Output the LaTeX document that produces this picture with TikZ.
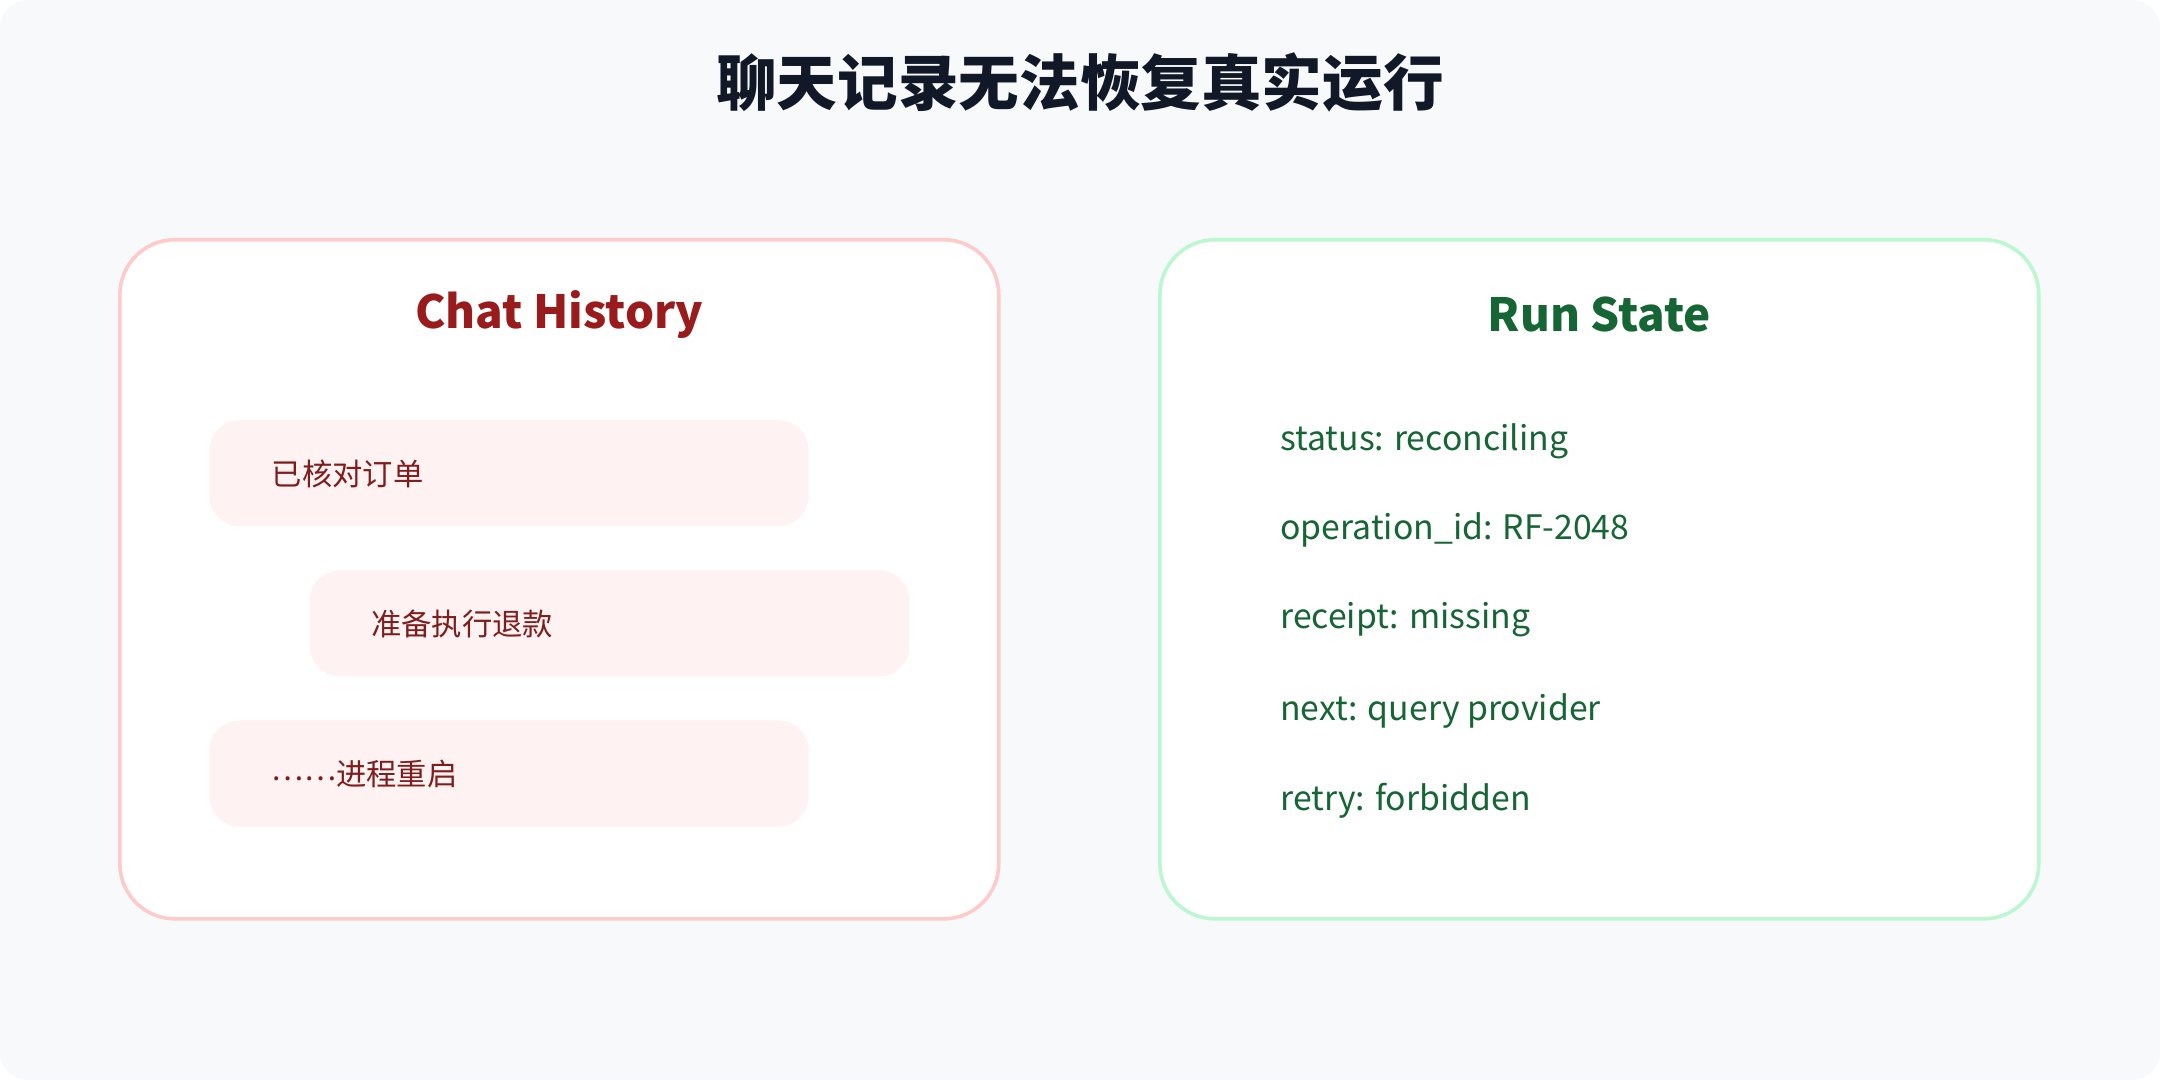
\documentclass[tikz,border=0pt]{standalone}
\usepackage{fontspec}
\setmainfont{Noto Sans CJK SC}
\definecolor{bg}{HTML}{F8F9FB}
\definecolor{redline}{HTML}{FECACA}
\definecolor{greenline}{HTML}{BBF7D0}
\definecolor{redtxt}{HTML}{991B1B}
\definecolor{redtxt2}{HTML}{7F1D1D}
\definecolor{bubble}{HTML}{FEF2F2}
\definecolor{greentxt}{HTML}{166534}
\definecolor{titletxt}{HTML}{111827}
\begin{document}
\begin{tikzpicture}[x=0.5pt,y=-0.5pt,
  panel/.style={line width=1.3pt,fill=white,rounded corners=20pt},
  bub/.style={fill=bubble,rounded corners=11pt},
  btxt/.style={anchor=west,text=redtxt2,font=\fontsize{11}{13}\selectfont,inner sep=0},
  stxt/.style={anchor=west,text=greentxt,font=\fontsize{12.25}{15}\selectfont,inner sep=0},
  head/.style={font=\bfseries\fontsize{16.6}{20}\selectfont,inner sep=0}]
\useasboundingbox (0,0) rectangle (1568,784);
\fill[bg,rounded corners=10pt] (0,0) rectangle (1568,784);
\node[font=\bfseries\fontsize{22}{26}\selectfont,text=titletxt] (title) at (784,60) {聊天记录无法恢复真实运行};
\draw[panel,draw=redline] (87,174) rectangle (725,667);
\node[head,text=redtxt] (ch) at (406,228) {Chat History};
\fill[bub] (152,305) rectangle (587,382);
\fill[bub] (225,414) rectangle (660,491);
\fill[bub] (152,523) rectangle (587,600);
\node[btxt] (b1) at (197,344) {已核对订单};
\node[btxt] (b2) at (269,453) {准备执行退款};
\node[btxt] (b3) at (197,562) {\raisebox{0.3ex}{……}进程重启};
\draw[panel,draw=greenline] (842,174) rectangle (1480,667);
\node[head,text=greentxt] (rs) at (1161,228) {Run State};
\node[stxt] (s1) at (929,320) {status: reconciling};
\node[stxt] (s2) at (929,385) {operation\_id: RF-2048};
\node[stxt] (s3) at (929,450) {receipt: missing};
\node[stxt] (s4) at (929,516) {next: query provider};
\node[stxt] (s5) at (929,581) {retry: forbidden};
\end{tikzpicture}
\end{document}
